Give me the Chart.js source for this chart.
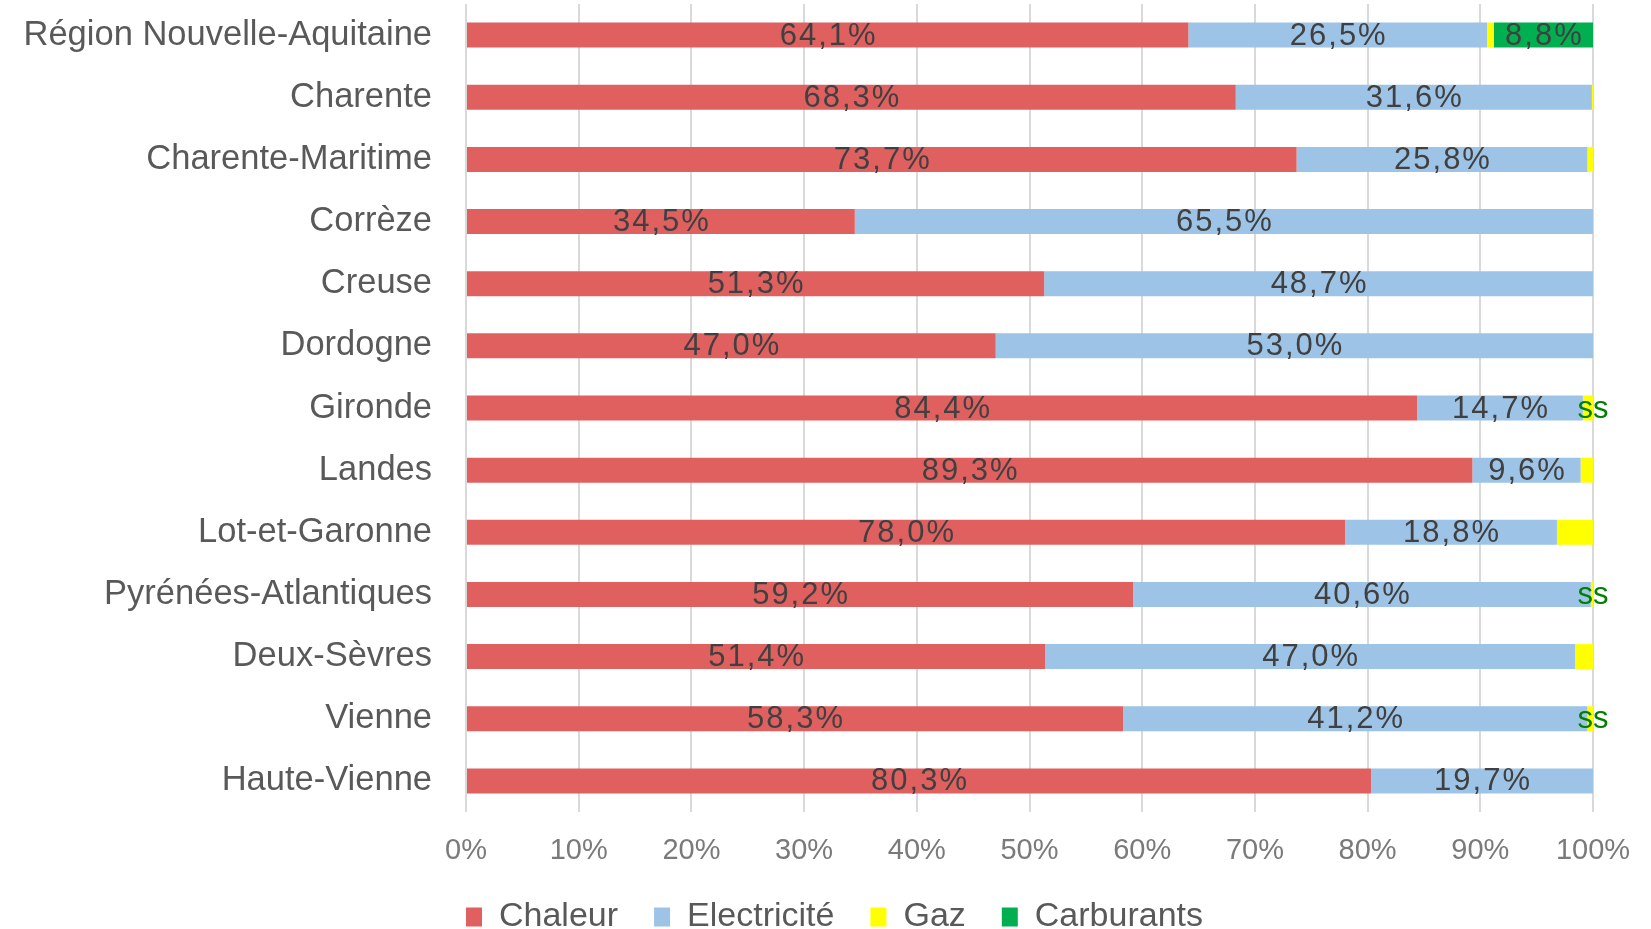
<!DOCTYPE html>
<html>
<head>
<meta charset="utf-8">
<script src="https://cdn.jsdelivr.net/npm/chart.js@4.4.1/dist/chart.umd.min.js"></script>
<style>
html,body{margin:0;padding:0;background:#fff;}
#wrap{width:1651px;height:929px;position:relative;}
</style>
</head>
<body>
<div id="wrap"><canvas id="c"></canvas></div>
<script>
const categories = ['Région Nouvelle-Aquitaine','Charente','Charente-Maritime','Corrèze','Creuse','Dordogne','Gironde','Landes','Lot-et-Garonne','Pyrénées-Atlantiques','Deux-Sèvres','Vienne','Haute-Vienne'];
const chaleur     = [64.1, 68.3, 73.7, 34.5, 51.3, 47.0, 84.4, 89.3, 78.0, 59.2, 51.4, 58.3, 80.3];
const electricite = [26.5, 31.6, 25.8, 65.5, 48.7, 53.0, 14.7,  9.6, 18.8, 40.6, 47.0, 41.2, 19.7];
const gaz         = [ 0.6,  0.1,  0.5,  0,    0,    0,    0.9,  1.1,  3.2,  0.2,  1.6,  0.5,  0  ];
const carburants  = [ 8.8,  0,    0,    0,    0,    0,    0,    0,    0,    0,    0,    0,    0  ];
const secretRows  = [false,false,false,false,false,false,true,false,false,true,false,true,false];
const seriesNames = ['Chaleur','Electricité','Gaz','Carburants'];
const xTickValues = [0,10,20,30,40,50,60,70,80,90,100];

const fmt = v => v.toFixed(1).replace('.', ',') + '%';

const labelPlugin = {
  id: 'segLabels',
  beforeDraw(chart) {
    const lg = chart.legend;
    const w = lg.right - lg.left;
    lg.left = chart.chartArea.left - lg.options.labels.padding;
    lg.right = lg.left + w;
  },
  afterDatasetsDraw(chart) {
    const ctx = chart.ctx;
    ctx.save();
    ctx.font = '31px "Liberation Sans"';
    ctx.letterSpacing = '2px';
    ctx.textAlign = 'center';
    ctx.textBaseline = 'middle';
    chart.data.datasets.forEach((ds, di) => {
      if (!ds.showLabels) return;
      const meta = chart.getDatasetMeta(di);
      meta.data.forEach((el, i) => {
        const v = ds.data[i];
        if (!v) return;
        ctx.fillStyle = '#404040';
        ctx.fillText(fmt(v), (el.x + el.base) / 2 + 1, el.y + 1);
      });
    });
    const xs = chart.scales.x;
    const meta0 = chart.getDatasetMeta(0);
    ctx.fillStyle = '#008000';
    ctx.letterSpacing = '0px';
    secretRows.forEach((s, i) => {
      if (!s) return;
      ctx.fillText('ss', xs.getPixelForValue(100), meta0.data[i].y + 1);
    });
    ctx.restore();
  }
};

Chart.defaults.font.family = '"Liberation Sans", Arial, sans-serif';

new Chart(document.getElementById('c'), {
  type: 'bar',
  data: {
    labels: categories,
    datasets: [
      {label: seriesNames[0], data: chaleur, backgroundColor: '#E06060', showLabels: true},
      {label: seriesNames[1], data: electricite, backgroundColor: '#9DC3E6', showLabels: true},
      {label: seriesNames[2], data: gaz, backgroundColor: '#FFFF00', showLabels: false},
      {label: seriesNames[3], data: carburants, backgroundColor: '#00B050', showLabels: true}
    ]
  },
  options: {
    indexAxis: 'y',
    responsive: true,
    maintainAspectRatio: false,
    animation: false,
    datasets: {bar: {barPercentage: 0.402, categoryPercentage: 1, borderWidth: 0}},
    layout: {padding: {top: 4, right: 58, left: 0, bottom: -15}},
    scales: {
      x: {
        stacked: true, min: 0, max: 100,
        afterBuildTicks: s => { s.ticks = xTickValues.map(v => ({value: v})); },
        afterFit: s => { s.height = 52; s.paddingTop = 0; s.paddingBottom = 0; s.paddingLeft = 0; s.paddingRight = 0; },
        ticks: {callback: v => v + '%', color: '#7A7A7A', font: {size: 29, lineHeight: 1}, padding: 24, maxRotation: 0},
        grid: {color: '#D9D9D9', lineWidth: 2, drawTicks: false},
        border: {display: false}
      },
      y: {
        stacked: true,
        afterFit: s => { s.width = 466; s.paddingTop = 0; s.paddingBottom = 0; },
        ticks: {color: '#595959', font: {size: 34.5}, padding: 34},
        grid: {display: false, drawTicks: false},
        border: {display: false}
      }
    },
    plugins: {
      legend: {
        position: 'bottom',
        align: 'start',
        fullSize: false,
        labels: {boxWidth: 16, boxHeight: 19, padding: 36, color: '#595959', font: {size: 34}}
      },
      tooltip: {enabled: false}
    }
  },
  plugins: [labelPlugin]
});
</script>
</body>
</html>
